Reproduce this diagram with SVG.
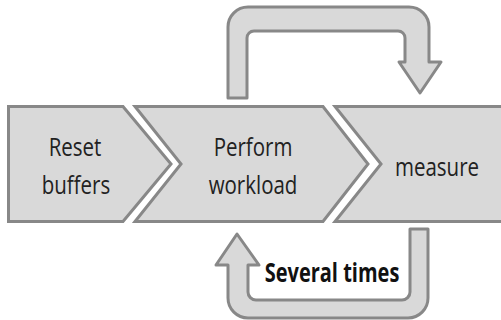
<svg xmlns="http://www.w3.org/2000/svg" width="501" height="320" viewBox="0 0 501 320">
<style>
.shape{fill:#d9d9d9;stroke:#888888;stroke-width:3;stroke-linejoin:miter}
.arrow{fill:#d9d9d9;stroke:#888888;stroke-width:3;stroke-linejoin:round}
.lbl{font-family:"Open Sans","Noto Sans",sans-serif;font-size:20.5px;fill:#222222;text-anchor:middle}
.note{font-family:"Open Sans","Noto Sans",sans-serif;font-size:20px;font-weight:bold;fill:#111;text-anchor:middle}
</style>
<rect width="501" height="320" fill="#ffffff"/>
<g id="reset">
<path class="shape" d="M8.5,106.5 H123 L171,164 L123,221.5 H8.5 Z"/>
<text class="lbl" transform="translate(75,156) scale(1,1.2)">Reset</text>
<text class="lbl" transform="translate(76,194) scale(1,1.2)">buffers</text>
</g>
<g id="perform">
<path class="shape" d="M135,106.5 H323 L368,164 L323,221.5 H135 L181,164 Z"/>
<text class="lbl" transform="translate(253,156) scale(1,1.2)">Perform</text>
<text class="lbl" transform="translate(253,194) scale(1,1.2)">workload</text>
</g>
<g id="measure">
<path class="shape" d="M335,106.5 H504 V221.5 H335 L381,164 Z"/>
<text class="lbl" transform="translate(437,176) scale(1,1.2)">measure</text>
</g>
<g id="connectors">
<path class="arrow" d="M228,98 V27 A20,20 0 0 1 248,7 H409 A20,20 0 0 1 429,27 V62 H441 L420,93 L399,62 H405 V38 A7,7 0 0 0 398,31 H254 A7,7 0 0 0 247,38 V98 Z"/>
<path class="arrow" d="M428,229 V298 A20,20 0 0 1 408,318 H248 A20,20 0 0 1 228,298 V265 H216 L237,234 L259,265 H248 V292 A8,8 0 0 0 256,300 H402 A8,8 0 0 0 410,292 V229 Z"/>
<text class="note" transform="translate(332,282) scale(1,1.3)">Several times</text>
</g>
</svg>
